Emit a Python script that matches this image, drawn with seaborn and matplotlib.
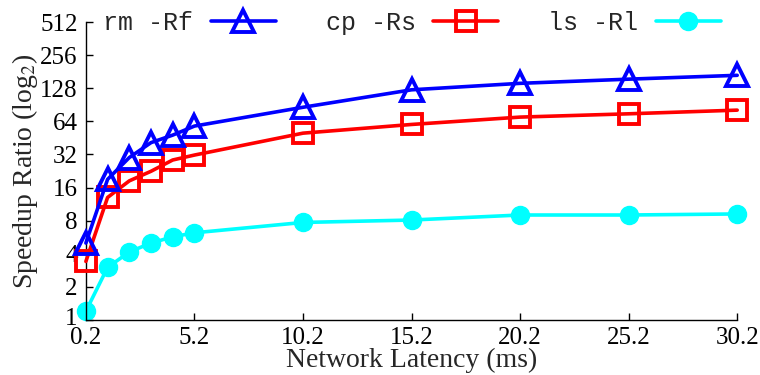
import matplotlib
matplotlib.use("Agg")
import matplotlib.pyplot as plt
import matplotlib.transforms as mtransforms
import seaborn as sns
import pandas as pd
import numpy as np

latency = [0.2, 1.2, 2.2, 3.2, 4.2, 5.2, 10.2, 15.2, 20.2, 25.2, 30.2]
rm_rf = [5.0, 19, 30, 41, 48, 58, 86, 124, 142, 155, 168]
cp_rs = [3.4, 13, 18.4, 22.5, 28.5, 31.6, 50, 60, 70, 75, 81]
ls_rl = [1.2, 3.0, 4.15, 5.0, 5.7, 6.2, 7.7, 8.1, 9.0, 9.0, 9.2]
series_names = ["rm -Rf", "cp -Rs", "ls -Rl"]
xticks = [0.2, 5.2, 10.2, 15.2, 20.2, 25.2, 30.2]
yticks = [1, 2, 4, 8, 16, 32, 64, 128, 256, 512]

sns.set_style("ticks")
plt.rcParams['font.family'] = ['Liberation Serif', 'DejaVu Serif']
plt.rcParams['mathtext.fontset'] = 'stix'

fig = plt.figure(figsize=(7.6, 3.75), dpi=100)
ax = fig.add_axes([0.113, 0.147, 0.857, 0.794])

styles = [
    dict(color=(0, 0, 1), marker='^', markerfacecolor='none', markeredgecolor=(0, 0, 1), markersize=16, markeredgewidth=2.8),
    dict(color=(1, 0, 0), marker='s', markerfacecolor='none', markeredgecolor=(1, 0, 0), markersize=15, markeredgewidth=2.8),
    dict(color=(0, 1, 1), marker='o', markerfacecolor=(0, 1, 1), markeredgecolor=(0, 1, 1), markersize=13, markeredgewidth=1),
]
data = [rm_rf, cp_rs, ls_rl]
for name, vals, st, z in zip(series_names, data, styles, [4, 3, 2]):
    df = pd.DataFrame({"x": latency, "y": vals})
    sns.lineplot(data=df, x="x", y="y", ax=ax, label=name, linewidth=2.6,
                 clip_on=False, zorder=z, **st)

ax.set_yscale('log', base=2)
ax.set_ylim(1, 512)
ax.set_xlim(0.2, 30.2)
ax.set_yticks(yticks)
ax.set_yticklabels([str(v) for v in yticks])
ax.minorticks_off()
ax.set_xticks(xticks)
ax.set_xticklabels([str(v) for v in xticks])
ax.tick_params(axis='both', direction='in', length=5, width=1, labelsize=18, pad=6, color='black', labelcolor='black')
ax.tick_params(axis='x', pad=5)
ax.set_xlabel("Network Latency (ms)", fontsize=20, labelpad=-1)
ax.set_ylabel("Speedup Ratio (log$_2$)", fontsize=20, labelpad=0)
for s in ['top', 'right']:
    ax.spines[s].set_visible(False)
for s in ['left', 'bottom']:
    ax.spines[s].set_color('black')
    ax.spines[s].set_linewidth(1)

# nudge lowest y label up slightly so it clears the first x label
first = ax.get_yticklabels()[0]
first.set_transform(first.get_transform() + mtransforms.ScaledTranslation(0, 3 / 100, fig.dpi_scale_trans))

leg = ax.legend(ncol=3, markerfirst=False, frameon=False, loc='upper left',
                bbox_to_anchor=(0.011, 1.072), prop={'family': 'Liberation Mono', 'size': 18},
                handlelength=2.6, columnspacing=2.0, handletextpad=0.7, borderaxespad=0)

fig.savefig("out.png", dpi=100)
